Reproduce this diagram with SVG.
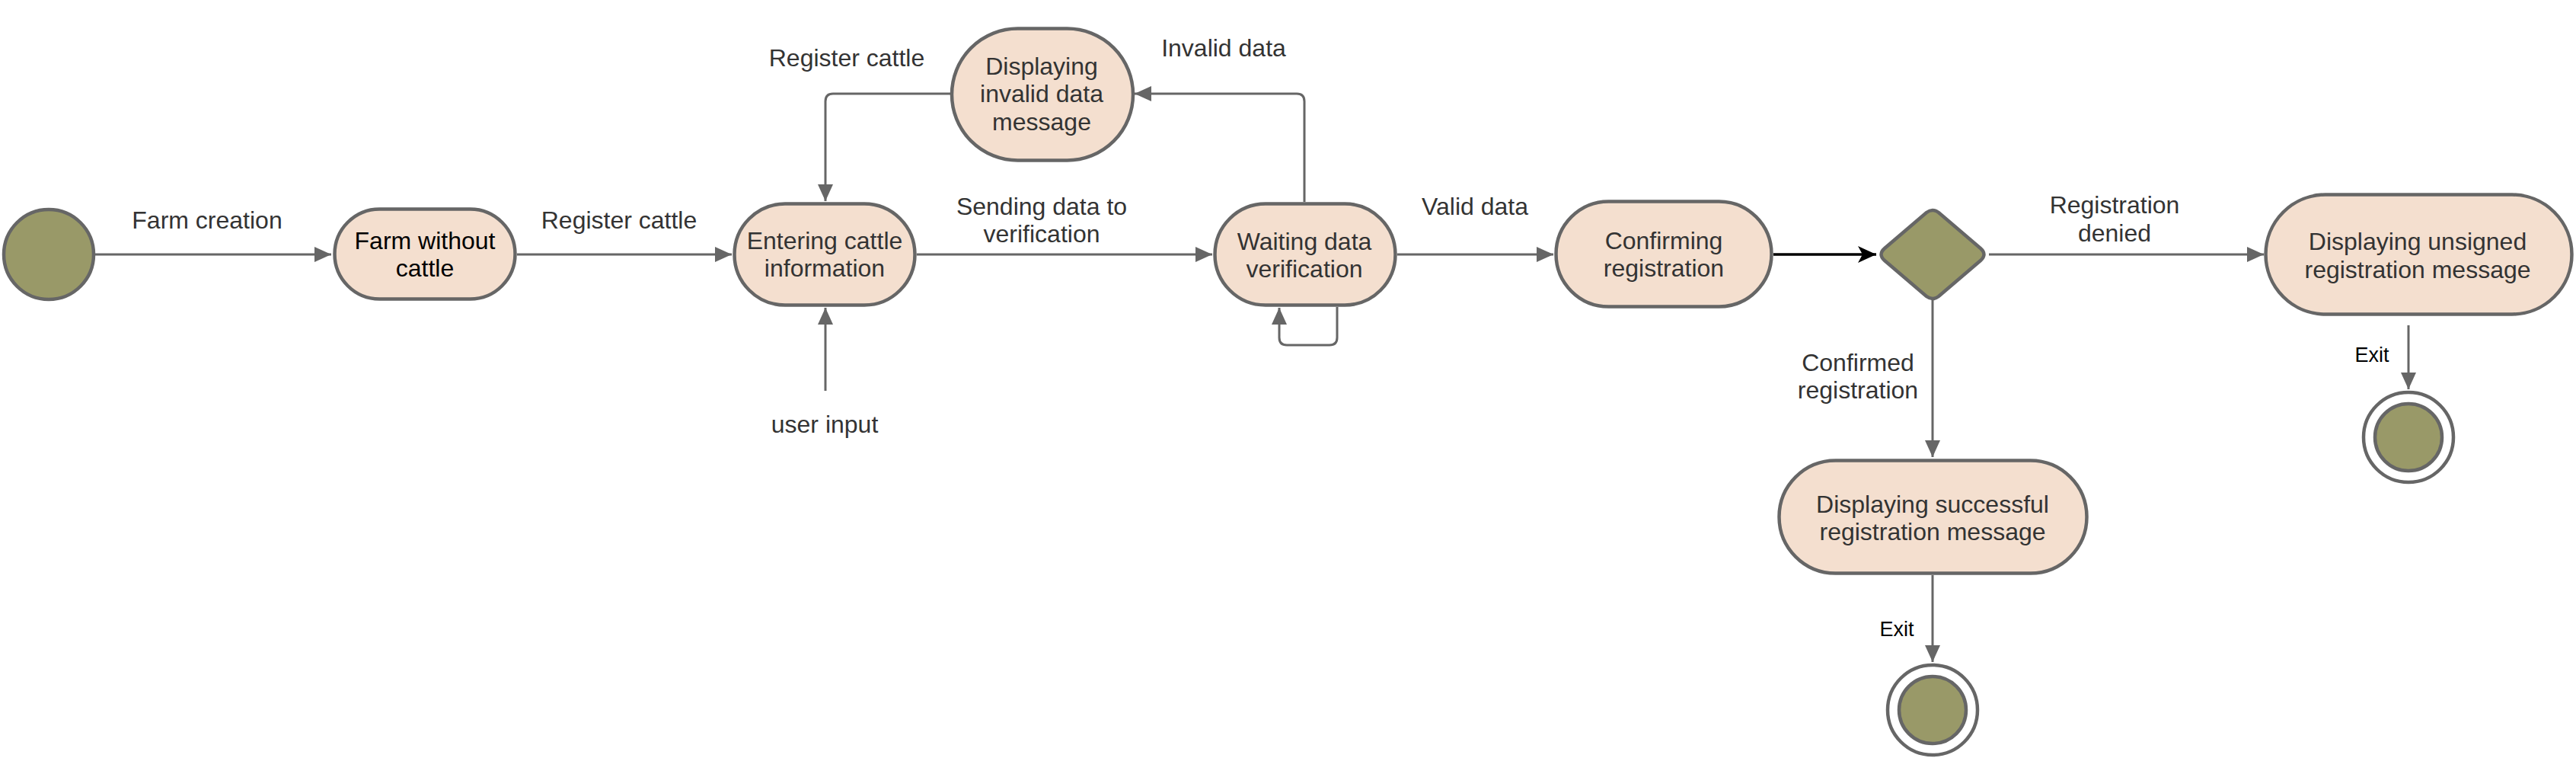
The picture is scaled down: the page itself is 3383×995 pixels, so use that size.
<svg xmlns="http://www.w3.org/2000/svg" width="3383" height="995" viewBox="0 0 3383 995">
<style>
.node{fill:#F4DFCF;stroke:#666666;stroke-width:4.5}
.olive{fill:#999968;stroke:#666666;stroke-width:4.5}
.ring{fill:#FFFFFF;stroke:#666666;stroke-width:4.5}
.conn{fill:none;stroke:#666666;stroke-width:3}
.t{font-family:"Liberation Sans",Arial,sans-serif;font-size:32px;fill:#333333;text-anchor:middle}
.tb{fill:#000000}
.exit{font-family:"Liberation Sans",Arial,sans-serif;font-size:27px;fill:#000000;text-anchor:middle}
</style>
<defs>
<marker id="arr" markerUnits="userSpaceOnUse" markerWidth="24" markerHeight="22" refX="22" refY="10" orient="auto">
<path d="M0,0 L22,10 L0,20 Z" fill="#666666"/>
</marker>
<marker id="arrb" markerUnits="userSpaceOnUse" markerWidth="26" markerHeight="24" refX="24" refY="11" orient="auto">
<path d="M0,0 L24,11 L0,22 L6,11 Z" fill="#000000"/>
</marker>
</defs>
<rect width="3383" height="995" fill="#FFFFFF"/>

<g id="connectors">
<path class="conn" d="M125,334 H435" marker-end="url(#arr)"/>
<path class="conn" d="M679,334 H961" marker-end="url(#arr)"/>
<path class="conn" d="M1204,334 H1592" marker-end="url(#arr)"/>
<path class="conn" d="M1713,265 V133 Q1713,123 1703,123 H1490" marker-end="url(#arr)"/>
<path class="conn" d="M1248,123 H1094 Q1084,123 1084,133 V264" marker-end="url(#arr)"/>
<path class="conn" d="M1084,513 V404" marker-end="url(#arr)"/>
<path class="conn" d="M1756,403 V443 Q1756,453 1746,453 H1690 Q1680,453 1680,443 V404" marker-end="url(#arr)"/>
<path class="conn" d="M1835,334 H2040" marker-end="url(#arr)"/>
<path fill="none" stroke="#000000" stroke-width="3.5" d="M2329,334 H2464" marker-end="url(#arrb)"/>
<path class="conn" d="M2612,334 H2973" marker-end="url(#arr)"/>
<path class="conn" d="M2538,393 V600" marker-end="url(#arr)"/>
<path class="conn" d="M2538,755 V869" marker-end="url(#arr)"/>
<path class="conn" d="M3163,427 V511" marker-end="url(#arr)"/>
<text class="t" x="272" y="300">Farm creation</text>
<text class="t" x="813" y="300">Register cattle</text>
<text class="t" x="1112" y="87">Register cattle</text>
<text class="t" x="1607" y="74">Invalid data</text>
<text class="t" x="1368" y="282">Sending data to</text>
<text class="t" x="1368" y="318">verification</text>
<text class="t" x="1083" y="568">user input</text>
<text class="t" x="1937" y="282">Valid data</text>
<text class="t" x="2777" y="280">Registration</text>
<text class="t" x="2777" y="317">denied</text>
<text class="t" x="2440" y="487">Confirmed</text>
<text class="t" x="2440" y="523">registration</text>
<text class="exit" x="2491" y="835">Exit</text>
<text class="exit" x="3115" y="475">Exit</text>
</g>

<g id="start">
<circle class="olive" cx="64" cy="334" r="59"/>
</g>

<g id="farm-without-cattle">
<rect class="node" x="439.5" y="274.5" width="237" height="118" rx="59" ry="59"/>
<text class="t tb" x="558" y="327">Farm without</text>
<text class="t tb" x="558" y="363">cattle</text>
</g>

<g id="entering-cattle-information">
<rect class="node" x="964.5" y="267.5" width="237" height="133" rx="66.5" ry="66.5"/>
<text class="t" x="1083" y="327">Entering cattle</text>
<text class="t" x="1083" y="363">information</text>
</g>

<g id="displaying-invalid-data-message">
<rect class="node" x="1250" y="37.5" width="238" height="173" rx="86.5" ry="86.5"/>
<text class="t" x="1368" y="98">Displaying</text>
<text class="t" x="1368" y="134">invalid data</text>
<text class="t" x="1368" y="171">message</text>
</g>

<g id="waiting-data-verification">
<rect class="node" x="1595.5" y="267.5" width="237" height="133" rx="66.5" ry="66.5"/>
<text class="t" x="1713" y="328">Waiting data</text>
<text class="t" x="1713" y="364">verification</text>
</g>

<g id="confirming-registration">
<rect class="node" x="2043.5" y="264.5" width="283" height="138" rx="69" ry="69"/>
<text class="t" x="2185" y="327">Confirming</text>
<text class="t" x="2185" y="363">registration</text>
</g>

<g id="decision">
<path class="olive" d="M2530,279 Q2538,273 2546,279 L2601,326 Q2610,334 2601,342 L2546,389 Q2538,395 2530,389 L2475,342 Q2466,334 2475,326 Z"/>
</g>

<g id="displaying-unsigned-registration-message">
<rect class="node" x="2975.5" y="255.5" width="402" height="157" rx="78.5" ry="78.5"/>
<text class="t" x="3175" y="328">Displaying unsigned</text>
<text class="t" x="3175" y="365">registration message</text>
</g>

<g id="displaying-successful-registration-message">
<rect class="node" x="2336.5" y="604.5" width="404" height="148" rx="74" ry="74"/>
<text class="t" x="2538" y="673">Displaying successful</text>
<text class="t" x="2538" y="709">registration message</text>
</g>

<g id="end-success">
<circle class="ring" cx="2538" cy="932" r="59"/>
<circle class="olive" cx="2538" cy="932" r="44"/>
</g>

<g id="end-denied">
<circle class="ring" cx="3163" cy="574" r="59"/>
<circle class="olive" cx="3163" cy="574" r="44"/>
</g>
</svg>
